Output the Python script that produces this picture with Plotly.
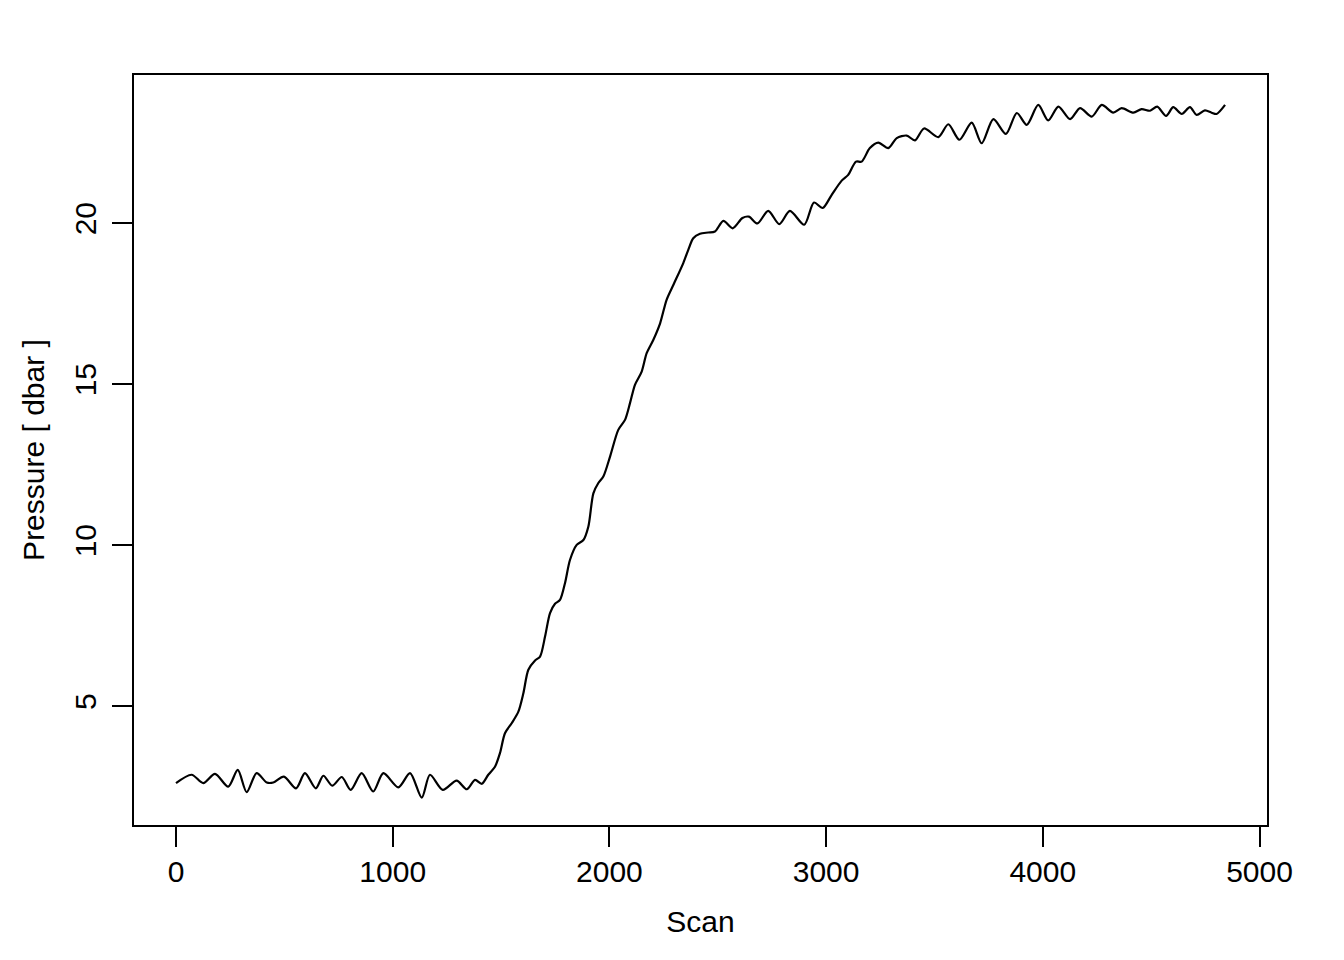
import plotly.graph_objects as go

# scan number and pressure
scan = [
    0, 72, 126, 180, 241, 285, 326, 372, 419, 449,
    498, 554, 595, 645, 680, 721, 765, 806, 857, 910,
    957, 1026, 1080, 1134, 1172, 1231, 1295, 1342, 1380, 1411,
    1441, 1472, 1495, 1518, 1549, 1580, 1603, 1626, 1657, 1680,
    1703, 1726, 1749, 1772, 1795, 1818, 1849, 1880, 1903, 1926,
    1949, 1972, 2003, 2041, 2072, 2095, 2118, 2149, 2172, 2203,
    2234, 2264, 2295, 2341, 2364, 2387, 2418, 2456, 2487, 2526,
    2569, 2614, 2644, 2683, 2733, 2784, 2833, 2899, 2944, 2984,
    3026, 3072, 3102, 3138, 3164, 3202, 3241, 3287, 3326, 3372,
    3410, 3452, 3518, 3564, 3615, 3672, 3718, 3772, 3830, 3880,
    3926, 3979, 4025, 4072, 4126, 4172, 4226, 4272, 4325, 4364,
    4418, 4456, 4495, 4528, 4569, 4602, 4641, 4679, 4710, 4748,
    4779, 4802, 4841,
]
pressure = [
    2.61, 2.87, 2.61, 2.90, 2.50, 3.02, 2.33, 2.92, 2.63, 2.63,
    2.81, 2.45, 2.92, 2.45, 2.84, 2.53, 2.80, 2.40, 2.92, 2.35,
    2.92, 2.48, 2.92, 2.16, 2.87, 2.40, 2.69, 2.42, 2.71, 2.59,
    2.87, 3.12, 3.54, 4.16, 4.47, 4.83, 5.40, 6.13, 6.42, 6.54,
    7.16, 7.89, 8.18, 8.30, 8.82, 9.54, 10.01, 10.16, 10.58, 11.61,
    11.93, 12.13, 12.75, 13.58, 13.89, 14.41, 14.98, 15.39, 15.96, 16.38,
    16.89, 17.62, 18.08, 18.76, 19.17, 19.53, 19.67, 19.71, 19.74, 20.07,
    19.84, 20.16, 20.20, 19.99, 20.38, 19.97, 20.38, 19.95, 20.64, 20.47,
    20.88, 21.32, 21.50, 21.91, 21.91, 22.33, 22.50, 22.33, 22.64, 22.72,
    22.57, 22.94, 22.67, 23.07, 22.59, 23.12, 22.48, 23.23, 22.77, 23.42,
    23.05, 23.67, 23.19, 23.62, 23.23, 23.57, 23.31, 23.67, 23.43, 23.57,
    23.43, 23.54, 23.49, 23.62, 23.33, 23.60, 23.39, 23.60, 23.36, 23.50,
    23.43, 23.39, 23.67,
]
x_ticks = [0, 1000, 2000, 3000, 4000, 5000]
y_ticks = [5, 10, 15, 20]

font_family = "Liberation Sans, Arial, sans-serif"
font_size = 30

fig = go.Figure()

fig.add_trace(go.Scatter(
    x=scan,
    y=pressure,
    mode="lines",
    line=dict(color="black", width=2.2, shape="spline", smoothing=0.8),
    showlegend=False,
))

axis_common = dict(
    showline=True,
    mirror=True,
    linecolor="black",
    linewidth=2,
    showgrid=False,
    zeroline=False,
    ticks="outside",
    ticklen=20,
    tickwidth=2,
    tickcolor="black",
    tickfont=dict(family=font_family, size=font_size, color="black"),
    automargin=False,
)

fig.update_xaxes(
    range=[-193.8, 5034.6],
    tickvals=x_ticks,
    ticklabelstandoff=-1,
    title=dict(text="Scan", font=dict(family=font_family, size=font_size, color="black"),
               standoff=24),
    **axis_common,
)
fig.update_yaxes(
    range=[1.31, 24.6],
    tickvals=y_ticks,
    tickangle=-90,
    ticklabelstandoff=4,
    title=dict(text="Pressure [ dbar ]", font=dict(family=font_family, size=font_size, color="black"),
               standoff=16),
    **axis_common,
)

# page body adds an 8px offset, so margins are shifted to keep the box in place
fig.update_layout(
    width=1344,
    height=960,
    margin=dict(l=126, r=85, t=67, b=143),
    paper_bgcolor="white",
    plot_bgcolor="white",
    font=dict(family=font_family, color="black"),
)

fig.write_html("out.html")
